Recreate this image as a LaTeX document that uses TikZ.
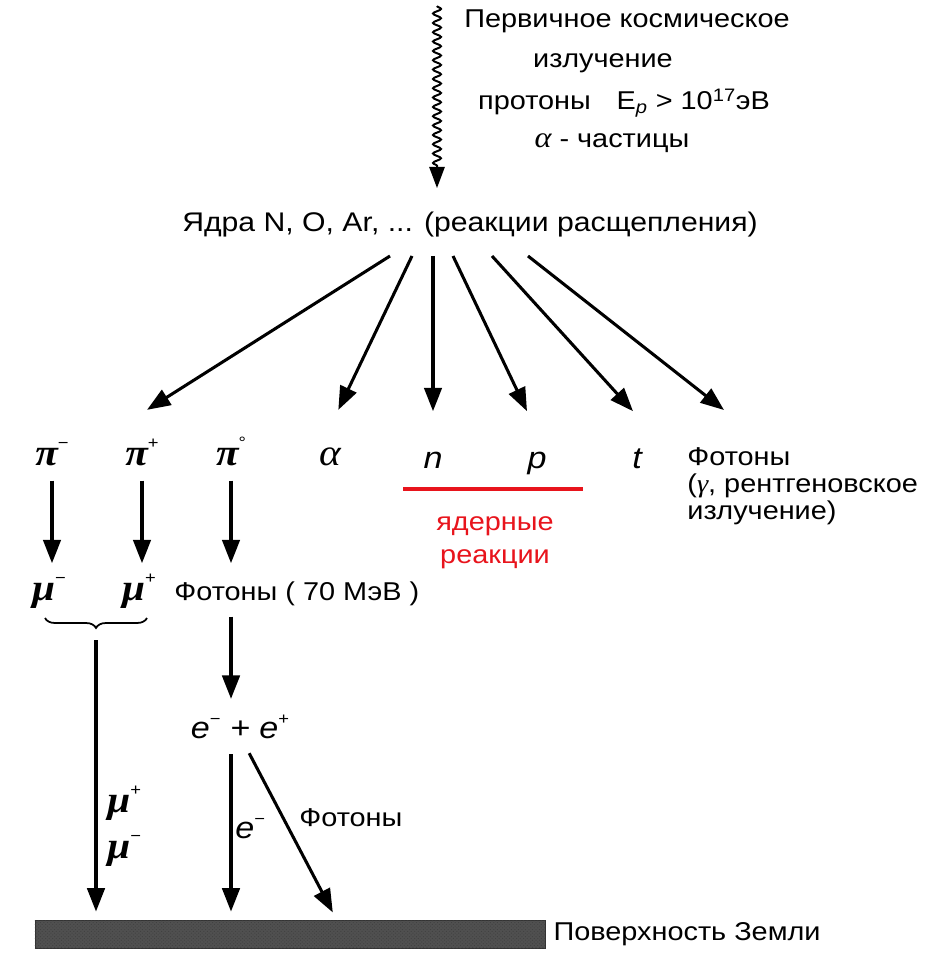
\documentclass[tikz,border=0pt]{standalone}
\usepackage{fontspec}
\setmainfont{Liberation Sans}[FakeStretch=1.12]
\newfontfamily\greekfont{Liberation Serif}[FakeStretch=1.1]
\newcommand{\chg}[1]{\raisebox{0.45em}{\fontsize{14}{14}\selectfont\normalfont #1}}
\usetikzlibrary{arrows.meta, calc, positioning, decorations.pathmorphing, decorations.pathreplacing, patterns}
\definecolor{reactred}{HTML}{E8141C}
\definecolor{groundgray}{HTML}{505050}

\begin{document}
\begin{tikzpicture}[
        x=0.03cm, y=-0.03cm,
        main text/.style={font=\fontsize{22}{25}\selectfont, inner sep=1pt},
        particle/.style={font=\fontsize{32}{34}\selectfont\greekfont\bfseries\itshape, inner sep=1pt, text height=16pt, text depth=5pt},
        letter/.style={font=\fontsize{26}{28}\selectfont\itshape, inner sep=1pt, text height=16pt, text depth=5pt},
        flow arrow/.style={line width=2.6pt, -{Triangle[length=20pt, width=15pt]}},
        wave arrow/.style={line width=1.7pt, decorate, decoration={snake, segment length=0.28cm, amplitude=0.12cm, post length=0.6cm}, -{Triangle[length=18pt, width=13pt]}},
        reaction line/.style={reactred, line width=2.6pt},
        reaction text/.style={inner sep=1pt, text=reactred, align=center, font=\fontsize{22}{28}\selectfont},
        muon brace/.style={line width=1.5pt, decorate, decoration={brace, mirror, amplitude=0.3cm}},
        ground bar/.style={draw=black!80, line width=0.8pt, fill=groundgray, minimum width=15.3cm, minimum height=0.84cm, inner sep=0pt, postaction={pattern=crosshatch dots, pattern color=black!75}},
    ]

        \useasboundingbox (0,0) rectangle (931,956);

        % Primary radiation
        \node[main text, anchor=base] (prim1) at (627,28) {Первичное космическое};
        \node[main text, anchor=base] (prim2) at (603,68) {излучение};
        \node[main text, anchor=base] (prim3) at (624,110) {протоны\quad E\textsubscript{\textit{p}} > 10\textsuperscript{17}эВ};
        \node[main text, anchor=base] (prim4) at (612,148) {{\fontsize{25}{25}\selectfont\greekfont\itshape α} - частицы};

        % Nuclei
        \node[main text, anchor=base, font=\fontsize{23}{25}\selectfont] (yadra) at (470,231) {Ядра N, O, Ar, ... (реакции расщепления)};

        \coordinate (wavetop) at (437,6);
        \draw[wave arrow] (wavetop) -- ($(wavetop |- yadra.north)+(0,-22)$);

        % Secondary particles
        \node[particle, anchor=base] (pim) at (52,465) {π\chg{−}};
        \node[particle, anchor=base] (pip) at (142,465) {π\chg{+}};
        \node[particle, anchor=base] (pio) at (231,465) {π\chg{°}};
        \node[particle, anchor=base, font=\fontsize{32}{34}\selectfont\greekfont\itshape] (alpha) at (330,465) {α};
        \node[letter, anchor=base] (neut) at (433,468) {n};
        \node[letter, anchor=base] (prot) at (537,468) {p};
        \node[letter, anchor=base] (trit) at (637,468) {t};
        \node[main text, anchor=north west, align=left, font=\fontsize{22}{23}\selectfont] (fotg) at (686,446)
            {Фотоны\\({\greekfont\itshape γ}, рентгеновское\\излучение)};

        % Fan of arrows
        \draw[flow arrow] ($(yadra.south)+(-80,18)$) -- ([xshift=0.15cm, yshift=1.05cm]pip.north);
        \draw[flow arrow] ($(yadra.south)+(-58,18)$) -- ([xshift=0.25cm, yshift=1.05cm]alpha.north);
        \draw[flow arrow] ($(yadra.south)+(-37,18)$) -- ([yshift=1.1cm]neut.north);
        \draw[flow arrow] ($(yadra.south)+(-17,18)$) -- ([xshift=-0.3cm, yshift=1.1cm]prot.north);
        \draw[flow arrow] ($(yadra.south)+(22,18)$) -- ([xshift=-0.12cm, yshift=1.1cm]trit.north);
        \draw[flow arrow] ($(yadra.south)+(58,18)$) -- ([xshift=1.14cm, yshift=1.08cm]fotg.north west);

        % Nuclear reactions
        \draw[reaction line] (403,489) -- (583,489);
        \node[reaction text] (reactlbl) at (495,543) {ядерные\\реакции};

        % Muons and photons
        \node[particle, anchor=base] (mum) at (49,600) {μ\chg{−}};
        \node[particle, anchor=base] (mup) at (139,600) {μ\chg{+}};
        \node[main text, anchor=base west] (fot70) at (173,600) {Фотоны ( 70 МэВ )};

        \draw[flow arrow, shorten <=0.25cm, shorten >=0.5cm] (pim.south) -- (pim.south |- mum.north);
        \draw[flow arrow, shorten <=0.25cm, shorten >=0.5cm] (pip.south) -- (pip.south |- mup.north);
        \draw[flow arrow, shorten <=0.25cm, shorten >=0.5cm] (pio.south) -- (pio.south |- mup.north);

        \draw[muon brace] (45,618) -- (147,618);
        \coordinate (bracetip) at (96,630);

        % Pair production
        \node[letter, anchor=base] (epair) at (240,738) {e\chg{−} + e\chg{+}};
        \draw[flow arrow, shorten <=0.3cm, shorten >=0.57cm] (pio.south |- fot70.south) -- (pio.south |- epair.north);

        % Earth surface
        \node[ground bar] (ground) at (290,934) {};
        \node[main text, right=0.2cm of ground] (groundlbl) {Поверхность Земли};

        \draw[flow arrow, shorten <=0.3cm, shorten >=0.24cm] (bracetip) -- (bracetip |- ground.north);
        \draw[flow arrow, shorten <=0.27cm, shorten >=0.24cm] (pio.south |- epair.south) -- (pio.south |- ground.north);
        \draw[flow arrow, shorten <=0.27cm, shorten >=0.24cm] ([xshift=0.15cm]epair.south) -- ($(ground.north west)+(302,0)$);

        % Labels on the lines
        \node[particle, anchor=base west, text height=, text depth=] (muplab) at (106,812) {μ\chg{+}};
        \node[particle, anchor=base west, text height=, text depth=] (muminlab) at (106,858) {μ\chg{−}};
        \node[letter, anchor=base west, text height=, text depth=] (elab) at (234,838) {e\chg{−}};
        \node[main text, anchor=base west] (fotlab) at (298,826) {Фотоны};

\end{tikzpicture}
\end{document}
